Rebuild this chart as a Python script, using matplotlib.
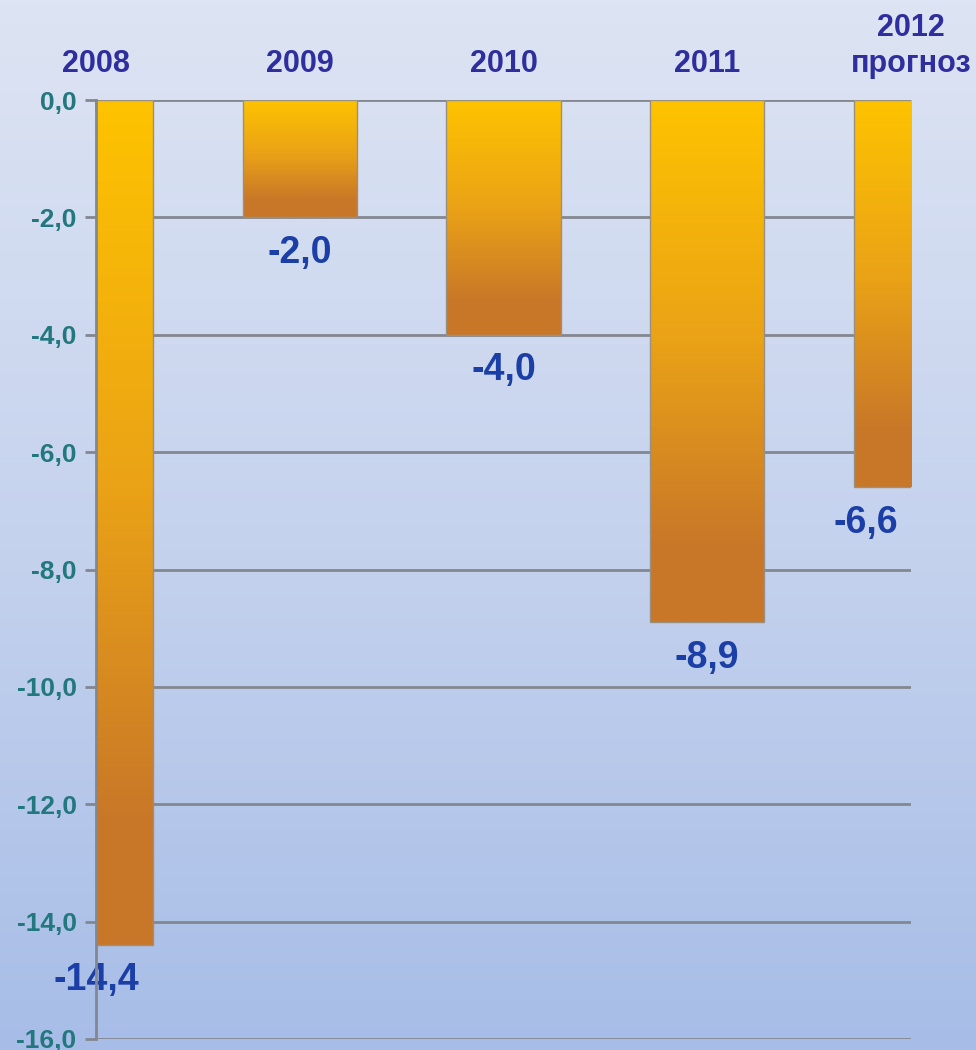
import numpy as np
import matplotlib

matplotlib.use("Agg")

import matplotlib.pyplot as plt
from matplotlib.colors import LinearSegmentedColormap

plt.rcParams["font.family"] = ["Liberation Sans", "DejaVu Sans"]

years = ["2008", "2009", "2010", "2011", "2012\nпрогноз"]
values = [-14.4, -2.0, -4.0, -8.9, -6.6]
value_labels = ["-14,4", "-2,0", "-4,0", "-8,9", "-6,6"]
y_ticks = [0, -2, -4, -6, -8, -10, -12, -14, -16]

W, H = 976, 1050
fig = plt.figure(figsize=(W / 100, H / 100), dpi=100)

# background gradient over the whole figure
bg = fig.add_axes([0, 0, 1, 1], zorder=0)
bg_cmap = LinearSegmentedColormap.from_list("bg", ["#dde4f3", "#c6d3ee", "#a7bde7"])
bg.imshow(np.linspace(0, 1, 256).reshape(-1, 1), cmap=bg_cmap, aspect="auto",
          extent=(0, 1, 0, 1))
bg.set_axis_off()

left, right, top, bottom = 96, 911, 100, 1039
ax = fig.add_axes([left / W, 1 - bottom / H, (right - left) / W, (bottom - top) / H], zorder=1)
ax.patch.set_alpha(0)

bar_cmap = LinearSegmentedColormap.from_list(
    "bar", [(0, "#fec300"), (0.45, "#eba316"), (0.85, "#c97828"), (1, "#c87628")])
grad = np.linspace(0, 1, 256).reshape(-1, 1)

x = np.arange(len(years))
width = 0.56

for y in y_ticks:
    ax.axhline(y, color="#838790", lw=2, zorder=1)

for xi, v, lab in zip(x, values, value_labels):
    ax.imshow(grad, cmap=bar_cmap, aspect="auto", zorder=2,
              extent=(xi - width / 2, xi + width / 2, v, 0))
    ax.bar(xi, v, width=width, facecolor="none", edgecolor="#9a9080", lw=1, zorder=3)
    # keep the last label inside the frame
    lx = min(xi, 3.78)
    ax.text(lx, v - 0.6, lab, ha="center", va="center", fontsize=27, fontweight="bold",
            color="#1b3fa6", zorder=4, clip_on=False)

ax.set_xlim(0, 4)
ax.set_ylim(-16, 0)

ax.set_yticks(y_ticks)
ax.set_yticklabels([f"{t:.1f}".replace(".", ",") for t in y_ticks],
                   fontsize=19, fontweight="bold", color="#23777e")
ax.tick_params(axis="y", length=8, width=2, color="#838790", pad=6)

ax.set_xticks(x)
ax.set_xticklabels([])
ax.tick_params(axis="x", direction="in", length=8, width=1.2, color="#838790",
               bottom=False, top=True)

for xi, name in zip(x, years):
    ax.text(xi, 0.35, name, ha="center", va="bottom", fontsize=22, fontweight="bold",
            color="#2e2e9e", linespacing=1.3, clip_on=False)

for side in ["top", "right", "bottom"]:
    ax.spines[side].set_visible(False)
ax.spines["left"].set_color("#838790")
ax.spines["left"].set_linewidth(2)
ax.spines["left"].set_zorder(5)

fig.savefig("out.png", dpi=100)
